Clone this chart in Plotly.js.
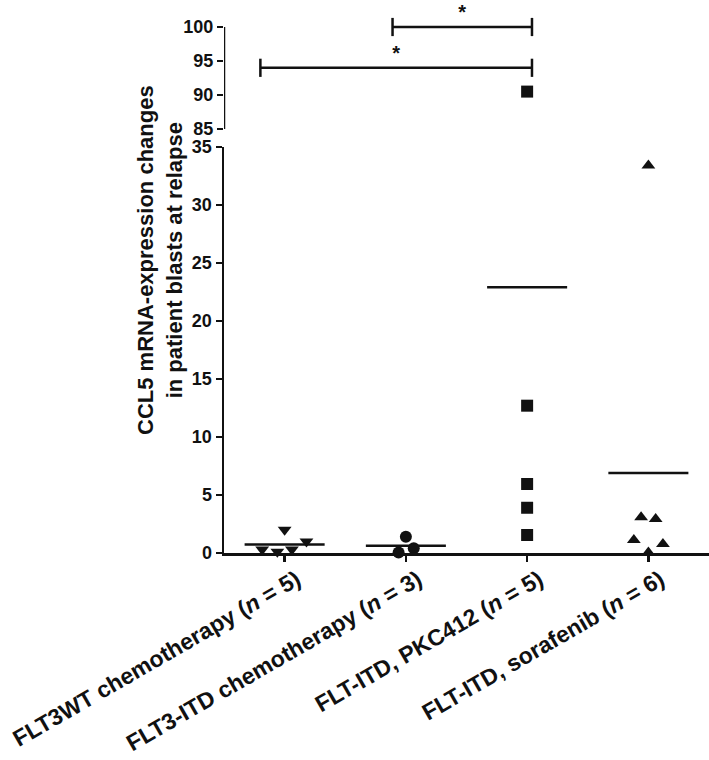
<!DOCTYPE html>
<html>
<head>
<meta charset="utf-8">
<script src="https://cdn.plot.ly/plotly-3.0.1.min.js"></script>
<style>
  html, body { margin: 0; padding: 0; background: #fff; }
  #chart { width: 709px; height: 760px; }
</style>
</head>
<body>
<div id="chart"></div>
<script>
// groups (x categories)
const groupLabels = [
  'FLT3WT chemotherapy (<i>n</i> = 5)',
  'FLT3-ITD chemotherapy (<i>n</i> = 3)',
  'FLT-ITD, PKC412 (<i>n</i> = 5)',
  'FLT-ITD, sorafenib (<i>n</i> = 6)'
];
const groupSymbols = ['triangle-down', 'circle', 'square', 'triangle-up'];

// CCL5 fold change per patient
const wtChemo = [0.3, 0.1, 0.3, 2.0, 1.0];
const itdChemo = [1.4, 0.05, 0.4];
const itdPkc412 = [90.5, 12.7, 5.95, 3.9, 1.55];
const itdSorafenib = [33.4, 3.08, 2.93, 1.12, 0.78, 0.05];
// horizontal spread of the dots inside each column (category units)
const wtChemoSpread = [-0.185, -0.06, 0.06, 0, 0.18];
const itdChemoSpread = [0, -0.06, 0.065];
const itdPkc412Spread = [0, 0, 0, 0, 0];
const itdSorafenibSpread = [0, -0.06, 0.06, -0.12, 0.12, 0];

const groupValues = [wtChemo, itdChemo, itdPkc412, itdSorafenib];
const groupSpread = [wtChemoSpread, itdChemoSpread, itdPkc412Spread, itdSorafenibSpread];

// significance brackets [from, to] in category units, height on the upper axis
const bracketFrom = [0.89, -0.2];
const bracketTo = [2.04, 2.04];
const bracketY = [100, 94];
const bracketLabel = ['*', '*'];

const lowerTicks = [0, 5, 10, 15, 20, 25, 30, 35];
const upperTicks = [85, 90, 95, 100];
const breakAt = 35;

// pixel guides for the broken axis
const plotBottom = 553;
const lowerTop = 147, upperBottom = 129, upperPxPerUnit = 6.8;
const lowerDomainTop = (plotBottom - lowerTop) / plotBottom;
const upperDomainBottom = (plotBottom - upperBottom) / plotBottom;
const upperRangeTop = 85 + upperBottom / upperPxPerUnit;

const ink = '#111111';
const font = 'Liberation Sans, Arial, Helvetica, sans-serif';

let data = [];

for (let g = 0; g < groupValues.length; g++) {
  let values = groupValues[g];
  let low = {x: [], y: []}, high = {x: [], y: []};
  for (let i = 0; i < values.length; i++) {
    let target = values[i] > breakAt ? high : low;
    target.x.push(g + groupSpread[g][i]);
    target.y.push(values[i]);
  }
  let marker = {symbol: groupSymbols[g], size: 12, color: ink};
  data.push({x: low.x, y: low.y, type: 'scatter', mode: 'markers', marker: marker,
    yaxis: 'y', cliponaxis: false, hoverinfo: 'y'});
  if (high.x.length) {
    data.push({x: high.x, y: high.y, type: 'scatter', mode: 'markers', marker: marker,
      yaxis: 'y2', cliponaxis: false, hoverinfo: 'y'});
  }

  // mean line
  let mean = values.reduce((a, b) => a + b, 0) / values.length;
  data.push({x: [g - 0.33, g + 0.33], y: [mean, mean], type: 'scatter', mode: 'lines',
    line: {color: ink, width: 2.5}, yaxis: 'y', hoverinfo: 'skip'});
}

for (let b = 0; b < bracketFrom.length; b++) {
  data.push({x: [bracketFrom[b], bracketTo[b]], y: [bracketY[b], bracketY[b]],
    type: 'scatter', mode: 'lines+markers', yaxis: 'y2', cliponaxis: false,
    line: {color: ink, width: 2.5},
    marker: {symbol: 'line-ns', size: 13, line: {color: ink, width: 2.5}},
    hoverinfo: 'skip'});
  data.push({x: [(bracketFrom[b] + bracketTo[b]) / 2], y: [bracketY[b] + 1.9],
    type: 'scatter', mode: 'text', text: [bracketLabel[b]], yaxis: 'y2', cliponaxis: false,
    textfont: {family: font, size: 20, color: ink, weight: 700}, hoverinfo: 'skip'});
}

// visible spine of the upper axis segment (85..100 only)
data.push({x: [-0.5, -0.5], y: [85, 100], type: 'scatter', mode: 'lines', yaxis: 'y2',
  cliponaxis: false, line: {color: ink, width: 2.5}, hoverinfo: 'skip'});

const tickFont = {family: font, size: 18, color: ink, weight: 700};

const layout = {
  width: 709,
  height: 760,
  margin: {l: 224, r: 0, t: 0, b: 760 - plotBottom},
  paper_bgcolor: '#fff',
  plot_bgcolor: '#fff',
  showlegend: false,
  xaxis: {
    range: [-0.5, 3.5],
    tickvals: [0, 1, 2, 3],
    ticktext: groupLabels,
    tickangle: -30,
    ticklabelshift: 12,
    ticklabelstandoff: -4,
    tickfont: {family: font, size: 23, color: ink, weight: 700},
    ticks: 'outside', ticklen: 6, tickwidth: 2.5, tickcolor: ink,
    showline: true, linecolor: ink, linewidth: 2.5,
    showgrid: false, zeroline: false,
    anchor: 'y'
  },
  yaxis: {
    domain: [0, lowerDomainTop],
    range: [0, breakAt],
    tickvals: lowerTicks,
    tickfont: tickFont,
    ticks: 'outside', ticklen: 6, tickwidth: 2.5, tickcolor: ink,
    showline: true, linecolor: ink, linewidth: 2.5,
    showgrid: false, zeroline: false,
    anchor: 'x'
  },
  yaxis2: {
    domain: [upperDomainBottom, 1],
    range: [85, upperRangeTop],
    tickvals: upperTicks,
    tickfont: tickFont,
    ticks: 'outside', ticklen: 6, tickwidth: 2.5, tickcolor: ink,
    showline: false,
    showgrid: false, zeroline: false,
    anchor: 'x'
  },
  annotations: [{
    text: '<b>CCL5 mRNA-expression changes<br>in patient blasts at relapse</b>',
    xref: 'paper', yref: 'paper',
    x: -0.132, y: (plotBottom - 260) / plotBottom,
    xanchor: 'center', yanchor: 'middle',
    textangle: -90, showarrow: false,
    font: {family: font, size: 22, color: ink}
  }]
};

Plotly.newPlot('chart', data, layout, {displayModeBar: false, staticPlot: true});
</script>
</body>
</html>
